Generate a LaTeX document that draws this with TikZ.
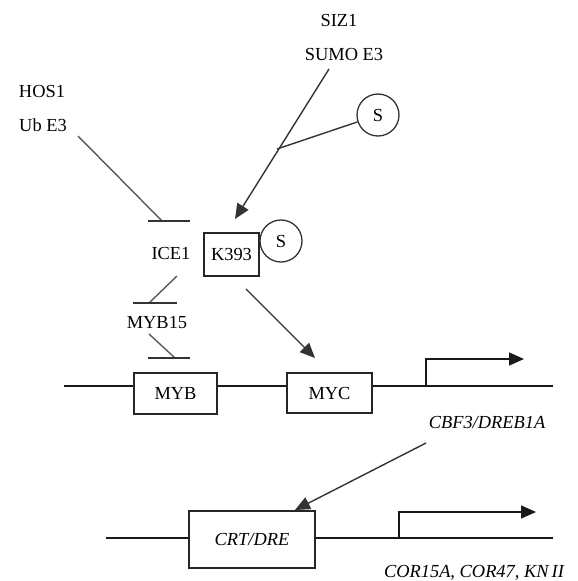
\documentclass[tikz,border=0pt]{standalone}
\usepackage{fontspec}
\setmainfont{Liberation Serif}
\usetikzlibrary{arrows.meta}
\begin{document}
\begin{tikzpicture}[x=1pt,y=-1pt,
  txt/.style={font=\fontsize{18.4}{22}\selectfont},
  lbl/.style={txt,inner sep=0pt},
  boxn/.style={txt,draw=black!85,line width=1.5pt,inner sep=0pt},
  sball/.style={txt,draw=black!80,circle,line width=1.3pt,minimum size=42pt,inner sep=0pt},
  conn/.style={draw=black!80,line width=1.4pt},
  inhib/.style={draw=black!65,line width=1.4pt},
  bar/.style={draw=black!80,line width=1.9pt},
  act/.style={conn,-{Triangle[length=15pt,width=13pt]}},
  dna/.style={draw=black!90,line width=1.5pt}]
\useasboundingbox (0,0) rectangle (578,581);
% labels
\node[lbl] (siz1) at (339,20) {SIZ1};
\node[lbl] (sumo) at (344,54) {SUMO E3};
\node[lbl] (hos1) at (42,91) {HOS1};
\node[lbl] (ube3) at (43,125) {Ub E3};
\node[lbl] (ice1) at (171,253) {ICE1};
\node[lbl] (myb15) at (157,323) {MYB15};
\node[lbl] (cbf) at (487,422) {\itshape CBF3/DREB1A};
\node[lbl] (cor) at (474,573) {\itshape COR15A, COR47, KN\,II};
% boxes
\node[boxn,minimum width=55pt,minimum height=43pt] (k393) at (231.5,254.5) {K393};
\node[sball] (s2) at (281,241) {S};
\node[sball] (s1) at (378,115) {S};
\node[boxn,minimum width=83pt,minimum height=41pt] (myb) at (175.5,393.5) {MYB};
\node[boxn,minimum width=85pt,minimum height=40pt] (myc) at (329.5,393) {MYC};
\node[boxn,minimum width=126pt,minimum height=57pt] (crt) at (252,539.5) {\itshape CRT/DRE};
% coordinates
\coordinate (hosS) at (78,136);
\coordinate (hosE) at (162,221);
\coordinate (hosBL) at (148,221);
\coordinate (hosBR) at (190,221);
\coordinate (sizS) at (329,69);
\coordinate (sizE) at (235,219);
\coordinate (br) at (277,149);
\coordinate (iceS) at (177,276);
\coordinate (iceE) at (149,303);
\coordinate (iceBL) at (133,303);
\coordinate (iceBR) at (177,303);
\coordinate (m15S) at (149,334);
\coordinate (m15E) at (175,358);
\coordinate (m15BL) at (148,358);
\coordinate (m15BR) at (190,358);
\coordinate (kS) at (246,289);
\coordinate (kE) at (315,358);
\coordinate (d1L) at (64,386);
\coordinate (d1R) at (553,386);
\coordinate (p1) at (426,386);
\coordinate (p1t) at (524,359);
\coordinate (cbS) at (426,443);
\coordinate (cbE) at (295,510);
\coordinate (d2L) at (106,538);
\coordinate (d2R) at (553,538);
\coordinate (p2) at (399,538);
\coordinate (p2t) at (536,512);
% DNA lines
\draw[dna] (d1L) -- (myb.west |- d1L);
\draw[dna] (myb.east |- d1L) -- (myc.west |- d1L);
\draw[dna] (myc.east |- d1L) -- (d1R);
\draw[dna] (d2L) -- (crt.west |- d2L);
\draw[dna] (crt.east |- d2L) -- (d2R);
% promoters
\draw[dna,-{Triangle[length=15pt,width=13pt]}] (p1) |- (p1t);
\draw[dna,-{Triangle[length=15pt,width=13pt]}] (p2) |- (p2t);
% inhibitions
\draw[inhib] (hosS) -- (hosE);
\draw[bar] (hosBL) -- (hosBR);
\draw[inhib] (iceS) -- (iceE);
\draw[bar] (iceBL) -- (iceBR);
\draw[inhib] (m15S) -- (m15E);
\draw[bar] (m15BL) -- (m15BR);
% activations
\draw[act] (sizS) -- (sizE);
\draw[conn] (br) -- (s1);
\draw[act] (kS) -- (kE);
\draw[act] (cbS) -- (cbE);
\end{tikzpicture}
\end{document}
